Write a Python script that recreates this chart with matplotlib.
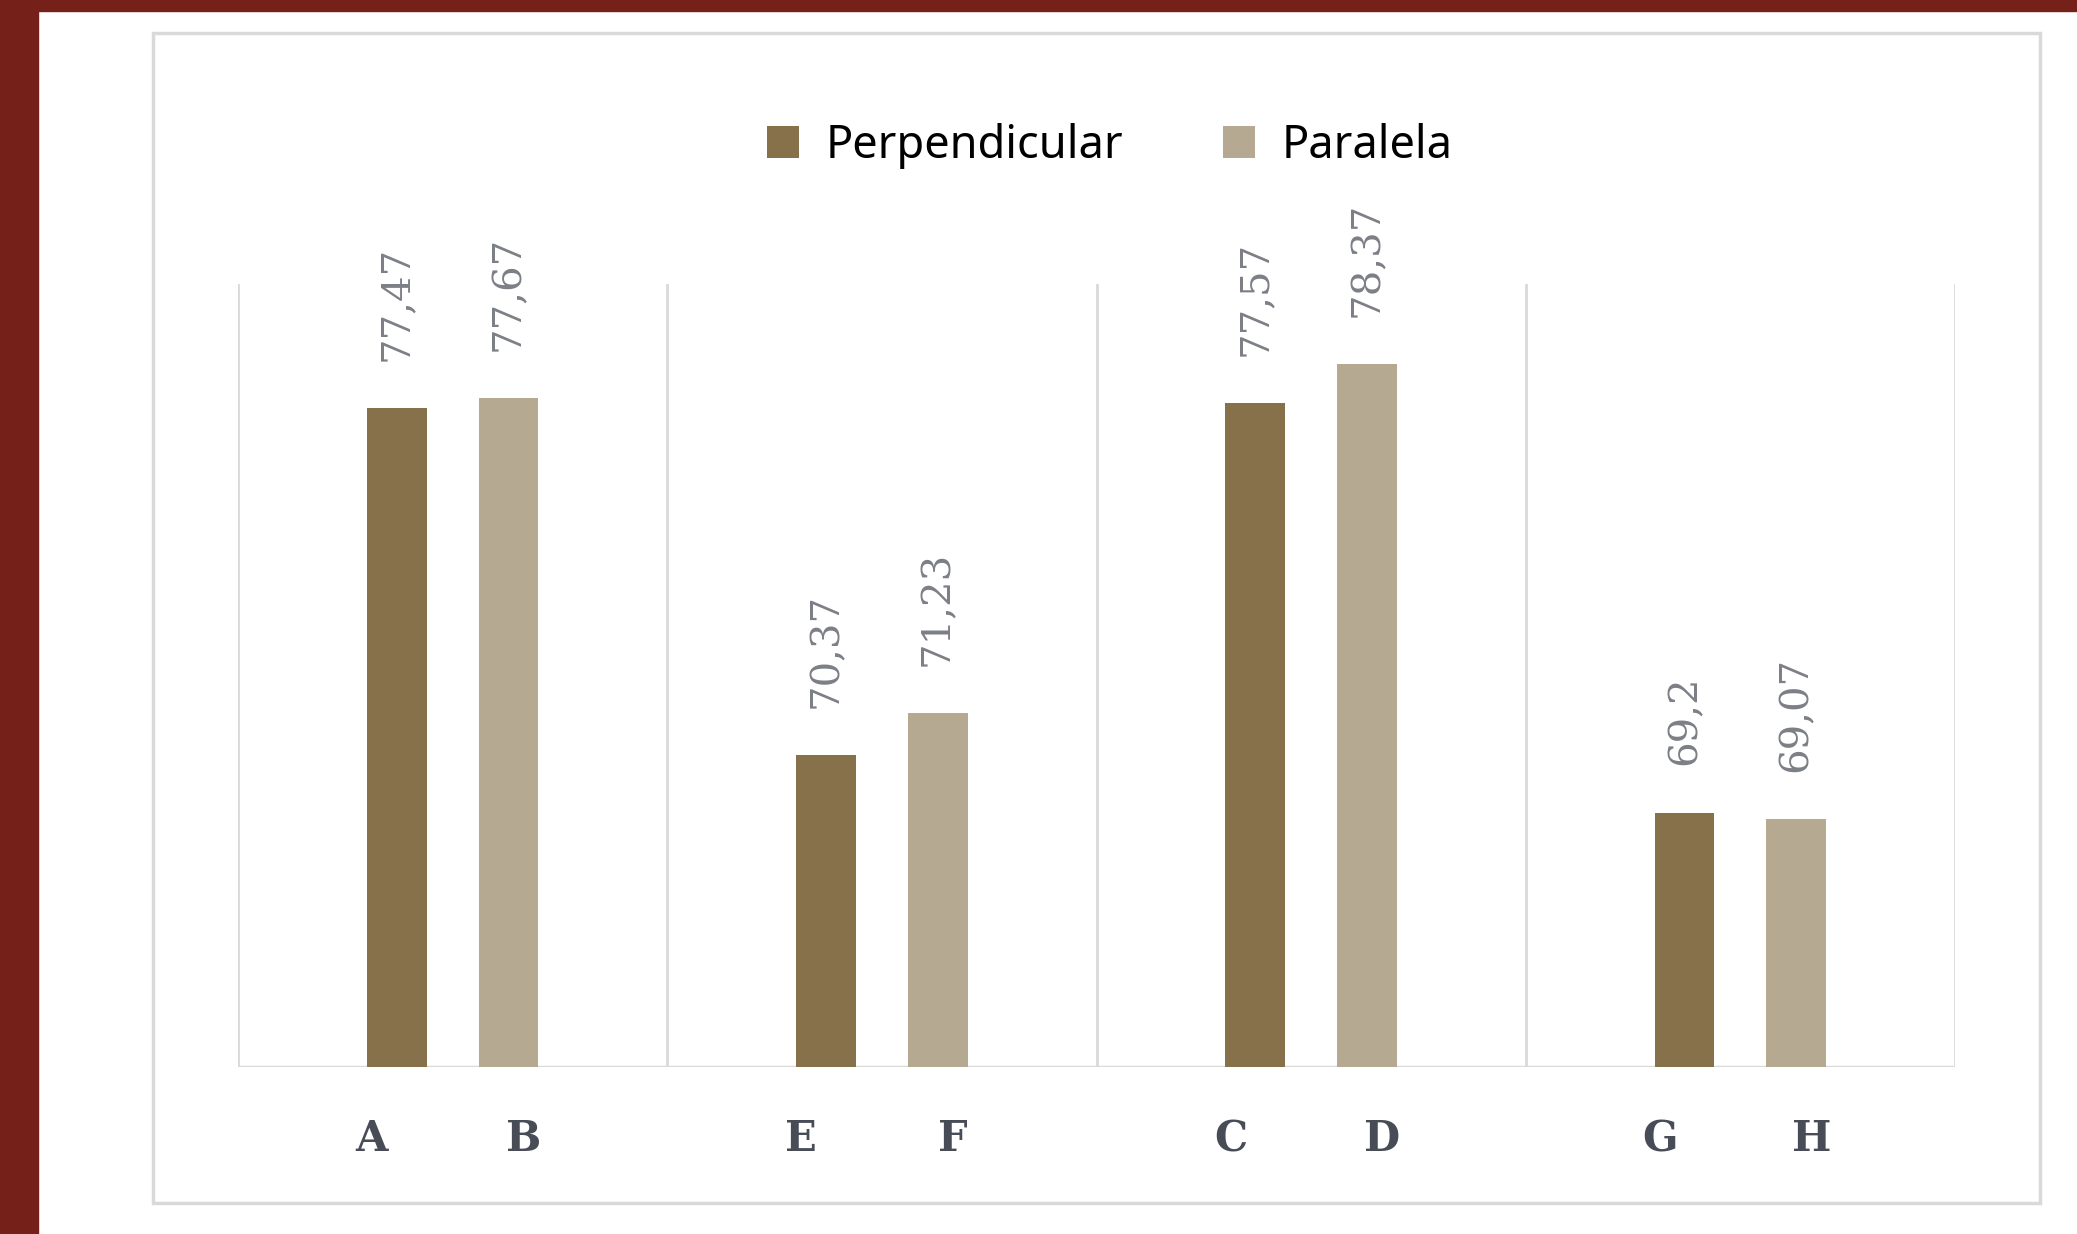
import numpy as np
import matplotlib
matplotlib.use('Agg')
import matplotlib.pyplot as plt
from matplotlib.patches import Rectangle

# Values (pairs per group)
groups = ['AB', 'EF', 'CD', 'GH']
perp_labels = ['A', 'E', 'C', 'G']
par_labels = ['B', 'F', 'D', 'H']
perpendicular = [77.47, 70.37, 77.57, 69.2]
paralela = [77.67, 71.23, 78.37, 69.07]
series_names = ['Perpendicular', 'Paralela']

dark = '#87714a'
light = '#b5a992'
grid_col = '#d9d9d9'
label_col = '#7c7f86'
tick_col = '#474c57'

fig = plt.figure(figsize=(20.77, 12.34), dpi=100)
fig.patch.set_facecolor('white')

# red frame on left and top, plus the light chart border
fig.patches.append(Rectangle((0, 0), 38 / 2077, 1, transform=fig.transFigure, color='#76201a', zorder=0))
fig.patches.append(Rectangle((0, 1 - 11 / 1234), 1, 11 / 1234, transform=fig.transFigure, color='#76201a', zorder=0))
fig.patches.append(Rectangle((153 / 2077, 1 - 1203 / 1234), (2040 - 153) / 2077, (1203 - 33) / 1234,
                             transform=fig.transFigure, fill=False, edgecolor=grid_col, linewidth=2.5, zorder=0))

ax = fig.add_axes([238 / 2077, 1 - 1067 / 1234, (1955 - 238) / 2077, (1067 - 284) / 1234])
ax.set_facecolor('none')

x = np.arange(len(groups))
bw = 0.139
off = 0.13
b1 = ax.bar(x - off, perpendicular, bw, color=dark, label=series_names[0], zorder=3)
b2 = ax.bar(x + off, paralela, bw, color=light, label=series_names[1], zorder=3)

ax.set_xlim(-0.5, len(groups) - 0.5)
ax.set_ylim(64, 80)

# group separators
for s in np.arange(-0.5, len(groups), 1.0):
    ax.axvline(s, color=grid_col, linewidth=2, zorder=1)
for sp in ax.spines.values():
    sp.set_visible(False)
ax.axhline(64, color=grid_col, linewidth=2.5, zorder=2)

# data labels
for bars, vals in [(b1, perpendicular), (b2, paralela)]:
    for rect, v in zip(bars, vals):
        ax.annotate(str(v).replace('.', ','), (rect.get_x() + rect.get_width() / 2, v),
                    xytext=(0, 34), textcoords='offset points', rotation=90,
                    ha='center', va='bottom', fontsize=29, color=label_col, family='DejaVu Serif')

ax.set_yticks([])
ticks = list(x - 0.188) + list(x + 0.166)
ax.set_xticks(ticks)
ax.set_xticklabels(perp_labels + par_labels, fontsize=30, fontweight='bold', color=tick_col, family='DejaVu Serif')
ax.tick_params(axis='x', length=0, pad=37)

leg = fig.legend(handles=[b1, b2], loc='center', bbox_to_anchor=(1110 / 2077, 1 - 146 / 1234), ncol=2,
                 frameon=False, handlelength=0.7, handleheight=0.7,
                 handletextpad=0.6, columnspacing=2.2, prop={'family': 'Noto Sans', 'size': 32.5})

fig.savefig('out.png', dpi=100)
